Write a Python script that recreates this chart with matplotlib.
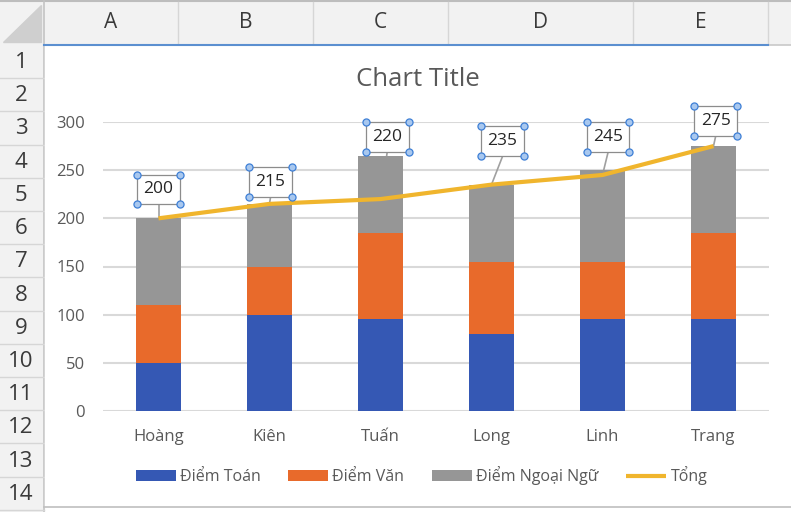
import matplotlib.pyplot as plt
from matplotlib.patches import Rectangle, Polygon
from matplotlib.lines import Line2D

plt.rcParams['font.family'] = ['Open Sans', 'DejaVu Sans']

# --- dữ liệu ---
names = ['Hoàng', 'Kiên', 'Tuấn', 'Long', 'Linh', 'Trang']
toan = [50, 100, 95, 80, 95, 95]
van = [60, 50, 90, 75, 60, 90]
ngoai_ngu = [90, 65, 80, 80, 95, 90]
tong = [200, 215, 220, 235, 245, 275]
y_ticks = [0, 50, 100, 150, 200, 250, 300]
col_letters = ['A', 'B', 'C', 'D', 'E']
row_numbers = list(range(1, 15))

# vị trí nhãn dữ liệu (dịch x, tâm y)
label_dx = [0.0, 0.01, 0.06, 0.10, 0.05, 0.02]
label_y = [230, 238, 284, 280, 284, 301]

c_blue = '#3558B4'
c_orange = '#E86A2B'
c_gray = '#969696'
c_yellow = '#F0B52D'
c_text = '#595959'

W, H = 791, 512
fig = plt.figure(figsize=(W / 100, H / 100), dpi=100)

# --- khung bảng tính ---
bg = fig.add_axes([0, 0, 1, 1])
bg.set_xlim(0, W)
bg.set_ylim(H, 0)
bg.axis('off')

hdr_h = 45
row_w = 44
row_h = 33.2
col_edges = [44, 178, 313, 448, 633, 768]

bg.add_patch(Rectangle((0, 0), W, hdr_h, color='#F2F2F2', zorder=0))
bg.add_patch(Rectangle((0, 0), row_w, H, color='#F2F2F2', zorder=0))
bg.add_patch(Polygon([(3, 42), (41, 42), (41, 5)], closed=True, color='#CFCFCF', zorder=1))
bg.plot([0, W], [0.5, 0.5], color='#BDBDBD', lw=1.5)
for x in col_edges[1:]:
    bg.plot([x, x], [2, hdr_h], color='#D6D6D6', lw=1)
bg.plot([row_w, row_w], [0, H], color='#C4C4C4', lw=1.2)
for i, letter in enumerate(col_letters):
    bg.text((col_edges[i] + col_edges[i + 1]) / 2, 23, letter, ha='center', va='center',
            fontsize=15, color='#3A3A3A')
for i, num in enumerate(row_numbers):
    y0 = hdr_h + i * row_h
    bg.plot([0, row_w], [y0 + row_h, y0 + row_h], color='#D6D6D6', lw=1)
    bg.text(21, y0 + row_h / 2 + 1, str(num), ha='center', va='center',
            fontsize=16, color='#3A3A3A')

# vùng biểu đồ
bg.add_patch(Rectangle((row_w + 1, hdr_h), W - row_w, 462, color='white', zorder=2))
bg.plot([row_w, W], [hdr_h, hdr_h], color='#C8C8C8', lw=1.2, zorder=3)
bg.plot([row_w, 768], [hdr_h, hdr_h], color='#5B8FD0', lw=1.5, zorder=3)
bg.plot([row_w, W], [507, 507], color='#BFBFBF', lw=1.2, zorder=3)
bg.text((row_w + W) / 2, 80, 'Chart Title', ha='center', va='center',
        fontsize=18.5, color=c_text, zorder=3)

# --- biểu đồ ---
ax = fig.add_axes([103 / W, (H - 411) / H, 666 / W, 289 / H])
ax.set_facecolor('none')
x = list(range(len(names)))
bw = 0.405
bottom2 = [a + b for a, b in zip(toan, van)]
b1 = ax.bar(x, toan, bw, color=c_blue, label='Điểm Toán', zorder=2)
b2 = ax.bar(x, van, bw, bottom=toan, color=c_orange, label='Điểm Văn', zorder=2)
b3 = ax.bar(x, ngoai_ngu, bw, bottom=bottom2, color=c_gray, label='Điểm Ngoại Ngữ', zorder=2)
ln, = ax.plot(x, tong, color=c_yellow, lw=3, solid_capstyle='butt', label='Tổng', zorder=4)

ax.set_xlim(-0.5, len(names) - 0.5)
ax.set_ylim(0, 300)
ax.set_yticks(y_ticks)
ax.set_xticks(x)
ax.set_xticklabels(names)
ax.tick_params(axis='both', length=0, labelsize=12, labelcolor=c_text)
ax.tick_params(axis='y', pad=13)
ax.tick_params(axis='x', pad=13)
ax.yaxis.grid(True, color='#D9D9D9', lw=1.5)
ax.set_axisbelow(True)
for s in ax.spines.values():
    s.set_visible(False)

# nhãn dữ liệu có khung và điểm chọn
box_w = 0.385
box_h = 31
for i, v in enumerate(tong):
    cx = x[i] + label_dx[i]
    cy = label_y[i]
    ax.plot([cx, x[i]], [cy - box_h / 2, v], color='#A0A0A0', lw=1.2, zorder=1.5, clip_on=False)
    ax.add_patch(Rectangle((cx - box_w / 2, cy - box_h / 2), box_w, box_h, facecolor='white',
                           edgecolor='#8C8C8C', lw=0.9, zorder=5, clip_on=False))
    ax.text(cx, cy, str(v), ha='center', va='center', fontsize=12.5, color='#262626',
            zorder=6, clip_on=False)
    xs = [cx - box_w / 2, cx + box_w / 2, cx - box_w / 2, cx + box_w / 2]
    ys = [cy - box_h / 2, cy - box_h / 2, cy + box_h / 2, cy + box_h / 2]
    ax.scatter(xs, ys, s=26, facecolor='#A9C8EF', edgecolor='#3D7FD6', lw=0.9,
               zorder=7, clip_on=False)

fig.legend([b1, b2, b3, ln], ['Điểm Toán', 'Điểm Văn', 'Điểm Ngoại Ngữ', 'Tổng'],
           loc='center', bbox_to_anchor=(421.5 / W, 1 - 476 / H), ncol=4, frameon=False,
           fontsize=11.5, labelcolor=c_text, handlelength=2.5, handleheight=0.7,
           handletextpad=0.25, columnspacing=1.75)

fig.savefig('out.png', dpi=100)
